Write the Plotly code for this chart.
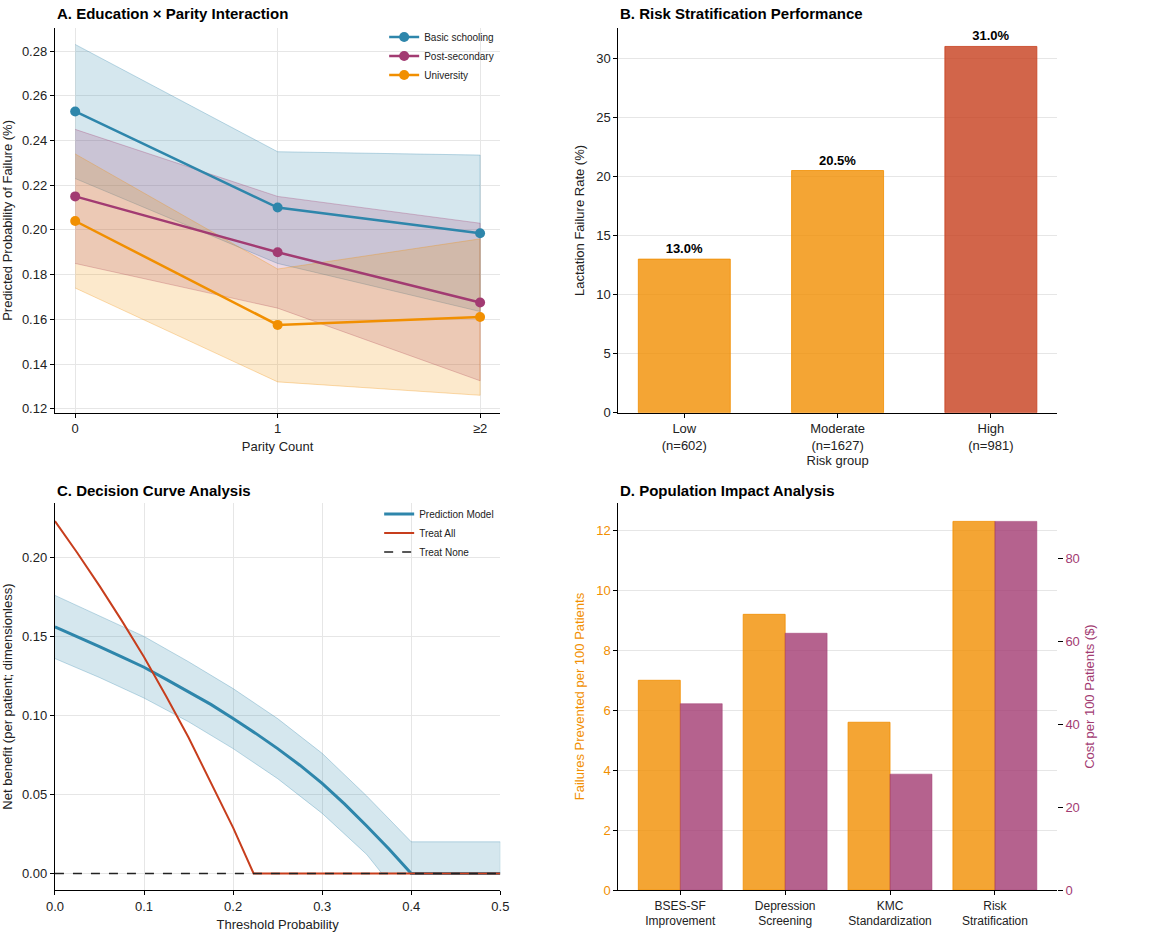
import plotly.graph_objects as go

# ---------------- Data ----------------
# Panel A
parity = ["0", "1", "≥2"]
edu_groups = ["Basic schooling", "Post-secondary", "University"]
edu_mean = {
    "Basic schooling": [0.253, 0.210, 0.1985],
    "Post-secondary": [0.215, 0.190, 0.1675],
    "University": [0.204, 0.1575, 0.161],
}
edu_upper = {
    "Basic schooling": [0.283, 0.235, 0.2335],
    "Post-secondary": [0.245, 0.215, 0.203],
    "University": [0.234, 0.1825, 0.196],
}
edu_lower = {
    "Basic schooling": [0.223, 0.185, 0.1635],
    "Post-secondary": [0.185, 0.165, 0.1325],
    "University": [0.174, 0.132, 0.126],
}

# Panel B
risk_groups = ["Low<br>(n=602)", "Moderate<br>(n=1627)", "High<br>(n=981)"]
risk_rates = [13.0, 20.5, 31.0]

# Panel C
thr_model = [0.0, 0.025, 0.05, 0.075, 0.10, 0.125, 0.15, 0.175, 0.20, 0.225, 0.25,
             0.275, 0.30, 0.325, 0.35, 0.375, 0.40, 0.45, 0.50]
nb_model = [0.156, 0.150, 0.1435, 0.137, 0.1305, 0.1228, 0.115, 0.107, 0.098, 0.0888, 0.079,
            0.0685, 0.057, 0.0440, 0.030, 0.0155, 0.0, 0.0, 0.0]
thr_upper = [0.0, 0.05, 0.10, 0.15, 0.20, 0.25, 0.30, 0.35, 0.40, 0.50]
nb_upper = [0.176, 0.163, 0.150, 0.134, 0.117, 0.098, 0.076, 0.049, 0.020, 0.020]
thr_lower = [0.0, 0.05, 0.10, 0.15, 0.20, 0.25, 0.30, 0.35, 0.367, 0.40, 0.50]
nb_lower = [0.136, 0.124, 0.111, 0.096, 0.079, 0.060, 0.038, 0.012, 0.0, 0.0, 0.0]
thr_all = [0.0, 0.025, 0.05, 0.075, 0.10, 0.125, 0.15, 0.175, 0.20, 0.223, 0.30, 0.40, 0.50]
nb_all = [0.223, 0.203, 0.182, 0.160, 0.137, 0.112, 0.086, 0.058, 0.029, 0.0, 0.0, 0.0, 0.0]
thr_none = [0.0, 0.5]
nb_none = [0.0, 0.0]

# Panel D
interventions = ["BSES-SF<br>Improvement", "Depression<br>Screening",
                 "KMC<br>Standardization", "Risk<br>Stratification"]
failures_prevented = [7.0, 9.2, 5.6, 12.3]
cost_per_100 = [45, 62, 28, 89]

# ---------------- Styles ----------------
BLUE = "#2E86AB"
PURPLE = "#A23B72"
ORANGE = "#F18F01"
RED = "#C73E1D"
FONT = "Liberation Sans, Arial, sans-serif"
line_colors = {"Basic schooling": BLUE, "Post-secondary": PURPLE, "University": ORANGE}
fill_colors = {"Basic schooling": "rgba(46,134,171,0.2)",
               "Post-secondary": "rgba(162,59,114,0.2)",
               "University": "rgba(241,143,1,0.2)"}
edge_colors = {"Basic schooling": "rgba(46,134,171,0.3)",
               "Post-secondary": "rgba(162,59,114,0.3)",
               "University": "rgba(241,143,1,0.3)"}

fig = go.Figure()

# ---- Panel A ----
for g in edu_groups:
    fig.add_trace(go.Scatter(
        x=parity + parity[::-1], y=edu_upper[g] + edu_lower[g][::-1],
        fill="toself", fillcolor=fill_colors[g], mode="lines",
        line=dict(color=edge_colors[g], width=1), showlegend=False,
        hoverinfo="skip", xaxis="x", yaxis="y"))
for g in edu_groups:
    fig.add_trace(go.Scatter(
        x=parity, y=edu_mean[g], mode="lines+markers", name=g,
        line=dict(color=line_colors[g], width=2.5),
        marker=dict(size=10, color=line_colors[g]),
        xaxis="x", yaxis="y", legend="legend"))

# ---- Panel B ----
bar_cols = ["rgba(241,143,1,0.8)", "rgba(241,143,1,0.8)", "rgba(199,62,29,0.8)"]
fig.add_trace(go.Bar(
    x=risk_groups, y=risk_rates, width=0.6,
    marker=dict(color=bar_cols, line=dict(color=bar_cols, width=1)),
    text=[f"<b>{v:.1f}%</b>" for v in risk_rates], textposition="outside",
    textfont=dict(size=13, color="black", family=FONT), cliponaxis=False,
    showlegend=False, xaxis="x2", yaxis="y2"))

# ---- Panel C ----
fig.add_trace(go.Scatter(
    x=thr_upper + thr_lower[::-1], y=nb_upper + nb_lower[::-1],
    fill="toself", fillcolor="rgba(46,134,171,0.2)", mode="lines",
    line=dict(color="rgba(46,134,171,0.3)", width=1), showlegend=False,
    hoverinfo="skip", xaxis="x3", yaxis="y3"))
fig.add_trace(go.Scatter(
    x=thr_model, y=nb_model, mode="lines", name="Prediction Model",
    line=dict(color=BLUE, width=3), xaxis="x3", yaxis="y3", legend="legend2"))
fig.add_trace(go.Scatter(
    x=thr_all, y=nb_all, mode="lines", name="Treat All",
    line=dict(color=RED, width=2), xaxis="x3", yaxis="y3", legend="legend2"))
fig.add_trace(go.Scatter(
    x=thr_none, y=nb_none, mode="lines", name="Treat None",
    line=dict(color="#222222", width=1.5, dash="dash"), xaxis="x3", yaxis="y3",
    legend="legend2"))

# ---- Panel D ----
fig.add_trace(go.Bar(
    x=interventions, y=failures_prevented, width=0.4, offset=-0.4,
    marker=dict(color="rgba(241,143,1,0.8)", line=dict(color="rgba(241,143,1,0.8)", width=1)),
    showlegend=False, xaxis="x4", yaxis="y4"))
fig.add_trace(go.Bar(
    x=interventions, y=cost_per_100, width=0.4, offset=0.0,
    marker=dict(color="rgba(162,59,114,0.8)", line=dict(color="rgba(162,59,114,0.5)", width=1)),
    showlegend=False, xaxis="x4", yaxis="y5"))

# ---------------- Layout ----------------
XL, XR = 0.047, 0.428
XL2, XR2 = 0.529, 0.904
YT_B, YT_T = 0.560, 0.970
YB_B, YB_T = 0.051, 0.4638

axis_common = dict(showline=True, linecolor="black", linewidth=1.3, ticks="outside",
                   ticklen=4, tickcolor="black", tickwidth=1.2, zeroline=False,
                   tickfont=dict(size=13, color="#222", family=FONT), mirror=False,
                   title_font=dict(size=13, color="#222", family=FONT))
grid = dict(showgrid=True, gridcolor="#e6e6e6", gridwidth=1)
nogrid = dict(showgrid=False)

fig.update_layout(
    width=1169, height=938, template="none",
    paper_bgcolor="white", plot_bgcolor="white",
    font=dict(family=FONT, size=13, color="#222"),
    margin=dict(l=0, r=0, t=0, b=0),
    barmode="overlay",
    xaxis=dict(domain=[XL, XR], anchor="y", type="category", range=[-0.1, 2.1],
               title=dict(text="Parity Count", standoff=6), **axis_common, **grid),
    yaxis=dict(domain=[YT_B, YT_T], anchor="x", range=[0.1182, 0.2903], dtick=0.02,
               tickformat=".2f", title=dict(text="Predicted Probability of Failure (%)", standoff=8),
               **axis_common, **grid),
    xaxis2=dict(domain=[XL2, XR2], anchor="y2", type="category", range=[-0.43, 2.43],
                title=dict(text="Risk group", standoff=2), **axis_common, **nogrid),
    yaxis2=dict(domain=[YT_B, YT_T], anchor="x2", range=[0, 32.55], dtick=5,
                title=dict(text="Lactation Failure Rate (%)", standoff=8),
                **axis_common, **grid),
    xaxis3=dict(domain=[XL, XR], anchor="y3", range=[0, 0.5], dtick=0.1, tickformat=".1f",
                title=dict(text="Threshold Probability", standoff=6), **axis_common, **grid),
    yaxis3=dict(domain=[YB_B, YB_T], anchor="x3", range=[-0.0106, 0.2345], dtick=0.05,
                tickformat=".2f", title=dict(text="Net benefit (per patient; dimensionless)", standoff=8),
                **axis_common, **grid),
    xaxis4=dict(domain=[XL2, XR2], anchor="y4", type="category", range=[-0.59, 3.59],
                **{**axis_common, "tickfont": dict(size=12, color="#222", family=FONT)}, **nogrid),
    yaxis4=dict(domain=[YB_B, YB_T], anchor="x4", range=[0, 12.915], dtick=2,
                title=dict(text="Failures Prevented per 100 Patients", standoff=8,
                           font=dict(color=ORANGE, size=13, family=FONT)),
                **{**axis_common, "tickfont": dict(size=13, color=ORANGE, family=FONT),
                   "title_font": dict(size=13, color=ORANGE, family=FONT)}, **grid),
    yaxis5=dict(overlaying="y4", side="right", anchor="x4", range=[0, 93.45], dtick=20,
                showline=False, ticks="outside", ticklen=5, tickcolor="black", tickwidth=1.3,
                zeroline=False, showgrid=False,
                tickfont=dict(size=13, color=PURPLE, family=FONT),
                title=dict(text="Cost per 100 Patients ($)", standoff=6,
                           font=dict(size=13, color=PURPLE, family=FONT))),
    legend=dict(x=0.427, y=1 - 56 / 938, xanchor="right", yanchor="middle",
                bgcolor="rgba(255,255,255,0)",
                font=dict(size=10, color="#222", family=FONT), tracegroupgap=0, itemwidth=30),
    legend2=dict(x=0.427, y=1 - 533 / 938, xanchor="right", yanchor="middle",
                 bgcolor="rgba(255,255,255,0)",
                 font=dict(size=10, color="#222", family=FONT), tracegroupgap=0, itemwidth=30),
)

titles = [
    ("A. Education × Parity Interaction", XL, 0.986),
    ("B. Risk Stratification Performance", XL2, 0.986),
    ("C. Decision Curve Analysis", XL, 0.4776),
    ("D. Population Impact Analysis", XL2, 0.4776),
]
for text, x, y in titles:
    fig.add_annotation(text=f"<b>{text}</b>", x=x, y=y, xref="paper", yref="paper",
                       xanchor="left", yanchor="middle", showarrow=False,
                       font=dict(size=15, color="black", family=FONT))

fig.write_html("out.html", config={"displayModeBar": False},
               post_script="document.body.style.margin='0px';document.body.style.overflow='hidden';")
